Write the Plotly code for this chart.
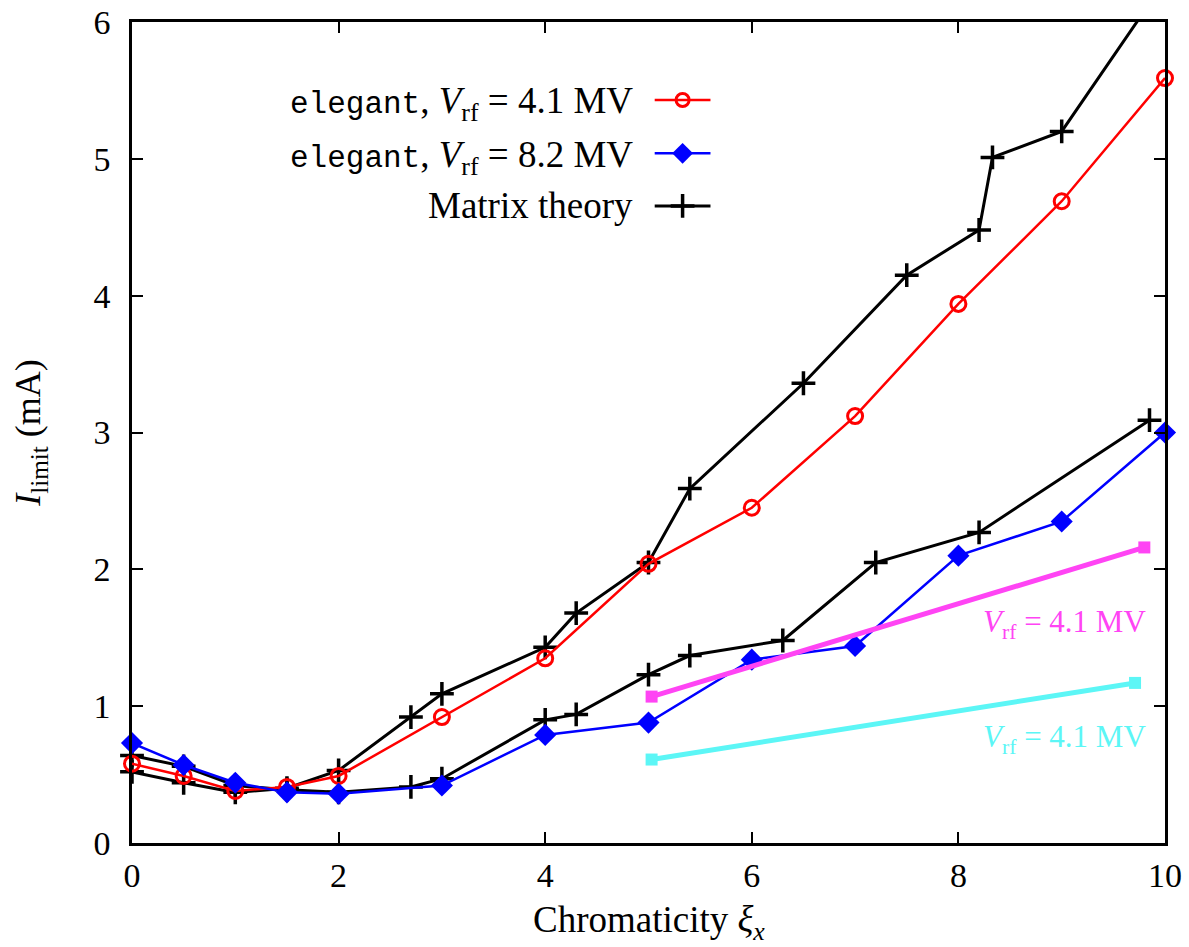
import plotly.graph_objects as go

# Chromaticity scan points and measured/calculated current limits (mA)
chroma_elegant = [0, 0.5, 1, 1.5, 2, 3, 4, 5, 6, 7, 8, 9, 10]
ilim_elegant_41 = [0.58, 0.49, 0.38, 0.41, 0.49, 0.92, 1.35, 2.04, 2.45, 3.12, 3.94, 4.69, 5.59]
ilim_elegant_82 = [0.73, 0.57, 0.44, 0.37, 0.36, 0.42, 0.79, 0.88, 1.34, 1.44, 2.10, 2.35, 3.00]

chroma_theory_41 = [0, 0.5, 1, 1.5, 2, 2.7, 3, 4, 4.3, 5, 5.4, 6.5, 7.5, 8.2, 8.33, 9, 10]
ilim_theory_41 = [0.52, 0.44, 0.37, 0.40, 0.53, 0.92, 1.09, 1.43, 1.68, 2.05, 2.59, 3.36, 4.15, 4.48, 5.01, 5.20, 6.30]

chroma_theory_82 = [0, 0.5, 1, 1.5, 2, 2.7, 3, 4, 4.3, 5, 5.4, 6.3, 7.2, 8.2, 9.85]
ilim_theory_82 = [0.64, 0.56, 0.42, 0.39, 0.37, 0.41, 0.47, 0.90, 0.94, 1.23, 1.37, 1.48, 2.05, 2.27, 3.09]

# Straight-line trends
trend_x_magenta = [5.03, 9.80]
trend_y_magenta = [1.07, 2.16]
trend_x_cyan = [5.03, 9.71]
trend_y_cyan = [0.61, 1.17]

x_ticks = [0, 2, 4, 6, 8, 10]
y_ticks = [0, 1, 2, 3, 4, 5, 6]

MONO = '<span style="font-family:Liberation Mono;font-size:31px">elegant</span>'
legend_labels = [
    MONO + ', <i>V</i><sub>rf</sub> = 4.1 MV',
    MONO + ', <i>V</i><sub>rf</sub> = 8.2 MV',
    'Matrix theory',
]

SERIF = "Liberation Serif"
RED = "#ff0000"
BLUE = "#0000ff"
MAGENTA = "#ff44f4"
CYAN = "#5cf6f6"

fig = go.Figure()

cross = dict(symbol="cross-thin", size=17, line=dict(color="black", width=3.5))

fig.add_trace(go.Scatter(
    x=chroma_theory_41, y=ilim_theory_41, mode="lines+markers",
    line=dict(color="black", width=3), marker=cross,
    cliponaxis=False, showlegend=False))
fig.add_trace(go.Scatter(
    x=chroma_theory_82, y=ilim_theory_82, mode="lines+markers",
    line=dict(color="black", width=3), marker=cross,
    cliponaxis=False, showlegend=False))
fig.add_trace(go.Scatter(
    x=chroma_elegant, y=ilim_elegant_41, mode="lines+markers",
    line=dict(color=RED, width=2.5),
    marker=dict(symbol="circle-open", size=15, color=RED, line=dict(color=RED, width=3)),
    cliponaxis=False, showlegend=False))
fig.add_trace(go.Scatter(
    x=chroma_elegant, y=ilim_elegant_82, mode="lines+markers",
    line=dict(color=BLUE, width=2.5),
    marker=dict(symbol="diamond", size=17, color=BLUE),
    cliponaxis=False, showlegend=False))
fig.add_trace(go.Scatter(
    x=trend_x_magenta, y=trend_y_magenta, mode="lines+markers",
    line=dict(color=MAGENTA, width=5),
    marker=dict(symbol="square", size=12, color=MAGENTA),
    cliponaxis=False, showlegend=False))
fig.add_trace(go.Scatter(
    x=trend_x_cyan, y=trend_y_cyan, mode="lines+markers",
    line=dict(color=CYAN, width=5),
    marker=dict(symbol="square", size=12, color=CYAN),
    cliponaxis=False, showlegend=False))

# Key: text on the left, sample line with symbol on the right
key_styles = [
    dict(line=dict(color=RED, width=2.5),
         marker=dict(symbol="circle-open", size=13, color=RED, line=dict(color=RED, width=3))),
    dict(line=dict(color=BLUE, width=2.5),
         marker=dict(symbol="diamond", size=16, color=BLUE)),
    dict(line=dict(color="black", width=3), marker=cross),
]
key_rows = [0.905, 0.840, 0.776]
key_text_shift = [-4, -4, 0]
for label, style, row, shift in zip(legend_labels, key_styles, key_rows, key_text_shift):
    fig.add_trace(go.Scatter(
        x=[0.506, 0.560], y=[row, row], mode="lines", line=style["line"],
        xaxis="x2", yaxis="y2", showlegend=False, hoverinfo="skip"))
    fig.add_trace(go.Scatter(
        x=[0.533], y=[row], mode="markers", marker=style["marker"],
        xaxis="x2", yaxis="y2", showlegend=False, hoverinfo="skip"))
    fig.add_annotation(
        x=0.487, y=row, xref="paper", yref="paper", xanchor="right", yanchor="middle",
        yshift=shift, text=label, showarrow=False,
        font=dict(family=SERIF, size=37, color="black"))

# In-plot labels for the trend lines
fig.add_annotation(
    x=9.84, y=1.60, xref="x", yref="y", xanchor="right", yanchor="middle",
    text="<i>V</i><sub>rf</sub> = 4.1 MV", showarrow=False,
    font=dict(family=SERIF, size=31, color=MAGENTA))
fig.add_annotation(
    x=9.84, y=0.76, xref="x", yref="y", xanchor="right", yanchor="middle",
    text="<i>V</i><sub>rf</sub> = 4.1 MV", showarrow=False,
    font=dict(family=SERIF, size=31, color=CYAN))

# x-axis title placed below the tick labels
fig.add_annotation(
    x=0.5, y=-0.097, xref="paper", yref="paper", xanchor="center", yanchor="middle",
    text="Chromaticity <i>ξ<sub>x</sub></i>", showarrow=False,
    font=dict(family=SERIF, size=37, color="black"))

axis_common = dict(
    showline=True, linecolor="black", linewidth=2.5, mirror="ticks",
    ticks="inside", ticklen=11, tickwidth=2, tickcolor="black",
    showgrid=False, zeroline=False, automargin=False,
    tickfont=dict(family=SERIF, size=34, color="black"),
)

fig.update_layout(
    width=1189, height=947,
    margin=dict(l=132, r=24, t=22, b=104),
    paper_bgcolor="white", plot_bgcolor="white",
    font=dict(family=SERIF, color="black"),
    xaxis=dict(range=[0, 10], tickvals=x_ticks, ticktext=[str(v) for v in x_ticks],
               ticklabelstandoff=0,
               **axis_common),
    yaxis=dict(range=[0, 6], tickvals=y_ticks, ticktext=[str(v) for v in y_ticks],
               ticklabelstandoff=12,
               title=dict(text="<i>I</i><sub>limit</sub> (mA)", standoff=42,
                          font=dict(family=SERIF, size=36)),
               **axis_common),
    xaxis2=dict(overlaying="x", range=[0, 1], visible=False, anchor="y2"),
    yaxis2=dict(overlaying="y", range=[0, 1], visible=False, anchor="x2"),
)

fig.write_html("out.html")
